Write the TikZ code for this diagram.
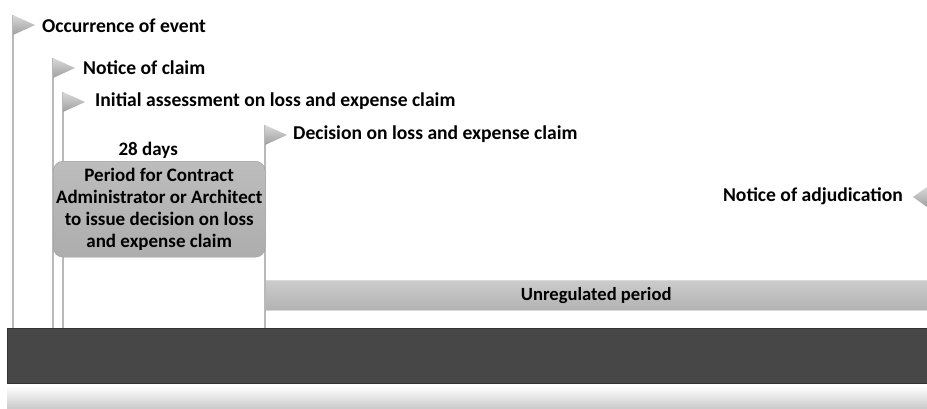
\documentclass[tikz,border=0pt]{standalone}
\usepackage{fontspec}
\setmainfont{Carlito}
\usetikzlibrary{positioning}

\begin{document}
\begin{tikzpicture}[x=1pt,y=-1pt,
    pole/.style={draw=gray!55,line width=1.6pt},
    flagtext/.style={anchor=west,inner sep=0pt,font=\bfseries\fontsize{19.6}{22}\selectfont},
    periodbox/.style={draw=gray!80,rounded corners=10pt,top color=gray!52,bottom color=gray!64,
      align=center,inner sep=0pt,font=\bfseries\fontsize{19}{22}\selectfont}]
  \useasboundingbox (0,0) rectangle (927,408);
  % bottom strip and dark bar
  \shade[top color=white,bottom color=gray!40] (7,386) rectangle (927,408);
  \node[fill=black!72,draw=black!80,anchor=north west,minimum width=920pt,minimum height=55pt,inner sep=0pt] (bar) at (7,328) {};
  % unregulated period
  \node[top color=gray!40,bottom color=gray!60,draw=gray!30,anchor=north west,minimum width=662pt,
    minimum height=30pt,inner sep=0pt,font=\bfseries\fontsize{18.6}{20}\selectfont] (unreg) at (265,280) {Unregulated period};
  % flag poles
  \coordinate (fo) at (13,15);
  \coordinate (fn) at (53,58);
  \coordinate (fi) at (63,92);
  \coordinate (fd) at (265,125);
  \draw[pole] (fo) -- (bar.north -| fo);
  \draw[pole] (fn) -- (bar.north -| fn);
  \draw[pole] (fi) -- (bar.north -| fi);
  \draw[pole] (fd) -- (bar.north -| fd);
  % flags
  \shade[top color=gray!30,bottom color=gray!75] (fo) -- ++(22,10) -- ++(-22,10) -- cycle;
  \shade[top color=gray!30,bottom color=gray!75] (fn) -- ++(22,10) -- ++(-22,10) -- cycle;
  \shade[top color=gray!30,bottom color=gray!75] (fi) -- ++(22,10) -- ++(-22,10) -- cycle;
  \shade[top color=gray!30,bottom color=gray!75] (fd) -- ++(22,10) -- ++(-22,10) -- cycle;
  \shade[top color=gray!30,bottom color=gray!75] (927,187) -- (913,197) -- (927,207) -- cycle;
  % labels
  \node[flagtext] (occ) at (42,26) {Occurrence of event};
  \node[flagtext] (noc) at (83,68) {Notice of claim};
  \node[flagtext] (ini) at (95,101) {Initial assessment on loss and expense claim};
  \node[flagtext] (dec) at (293,134) {Decision on loss and expense claim};
  \node[flagtext,anchor=east] (adj) at (903,196) {Notice of adjudication};
  % period box
  \node[periodbox,minimum width=212pt,minimum height=96pt,anchor=north west] (period) at (53,161)
    {Period for Contract\\Administrator or Architect\\to issue decision on loss\\and expense claim};
  \node[font=\bfseries\fontsize{19}{21}\selectfont,above=1pt of period,xshift=-11pt,inner sep=1pt] (days) {28 days};
\end{tikzpicture}
\end{document}
